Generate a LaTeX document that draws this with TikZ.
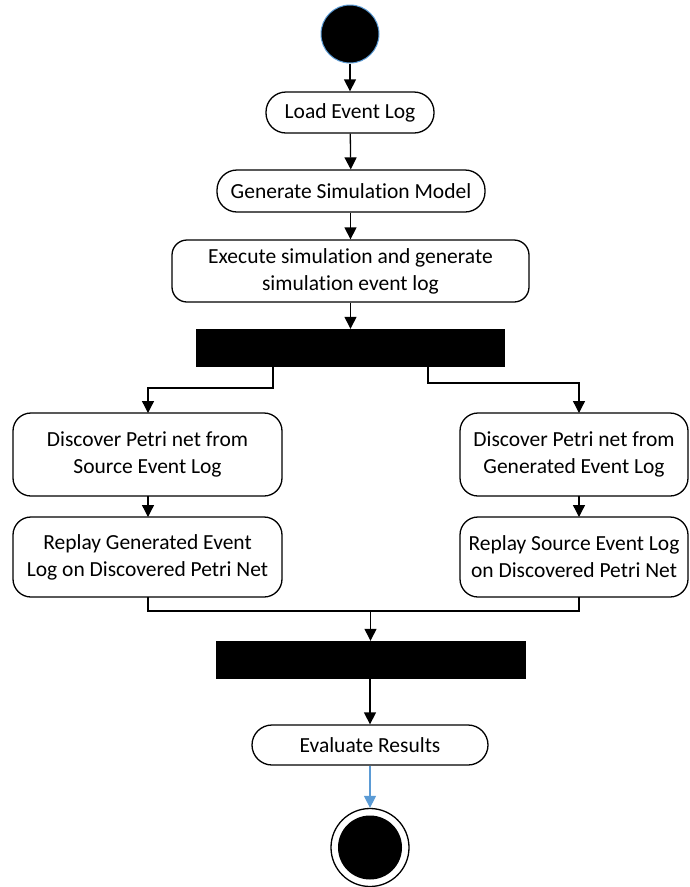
\documentclass[tikz,border=0pt]{standalone}
\usepackage{fontspec}
\setmainfont{Carlito}[Ligatures=NoCommon]
\usetikzlibrary{arrows.meta}
\definecolor{startblue}{RGB}{91,155,213}
\tikzset{
  act/.style={draw, line width=1.3pt, rounded corners=#1, align=center,
    font=\fontsize{21.5}{27}\selectfont, inner sep=0pt, fill=white},
  joinbar/.style={fill=black, draw=none, inner sep=0pt},
  arr/.style={line width=1.3pt, -{Triangle[width=12pt,length=12pt]}},
  ln/.style={line width=1.3pt},
}
\begin{document}
\begin{tikzpicture}[x=1pt,y=-1pt]
\useasboundingbox (0,0) rectangle (689,887);
\node[circle, fill=black, draw=startblue, line width=1pt, minimum size=58pt, inner sep=0pt] (start) at (350,34) {};
\node[act=20pt, minimum width=168pt, minimum height=41pt] (load) at (350,112.5) {Load Event Log};
\node[act=20pt, minimum width=268pt, minimum height=42pt] (gen) at (351,191) {Generate Simulation Model};
\node[act=15pt, minimum width=357pt, minimum height=62pt] (exec) at (350.5,271) {Execute simulation and generate\\simulation event log};
\node[joinbar, minimum width=309pt, minimum height=38pt] (fork) at (350.5,348) {};
\node[act=18pt, minimum width=269pt, minimum height=83pt] (ds) at (147.5,454.5) {Discover Petri net from\\Source Event Log};
\node[act=18pt, minimum width=269pt, minimum height=80pt] (rg) at (147.5,557) {Replay Generated Event\\Log on Discovered Petri Net};
\node[act=18pt, minimum width=228pt, minimum height=83pt] (dg) at (574,454.5) {Discover Petri net from\\Generated Event Log};
\node[act=18pt, minimum width=228pt, minimum height=80pt] (rs) at (574,557) {Replay Source Event Log\\on Discovered Petri Net};
\node[joinbar, minimum width=310pt, minimum height=38pt] (merge) at (371,660) {};
\node[act=20pt, minimum width=236pt, minimum height=40pt] (eval) at (370,745) {Evaluate Results};
\node[circle, draw=black, line width=1.3pt, minimum size=78pt, inner sep=0pt] (endo) at (370,847.5) {};
\node[circle, fill=black, minimum size=64pt, inner sep=0pt] (endi) at (endo.center) {};

\coordinate (fl) at (273,367);
\coordinate (fr) at (428,367);
\coordinate (jm) at (370.5,611);
\draw[arr] (start) -- (load);
\draw[arr] (load) -- (gen);
\draw[arr] (gen.south -| exec) -- (exec);
\draw[arr] (exec) -- (fork);
\draw[arr] (fl) |- (148,388) -- (148,413);
\draw[arr] (fr) |- (579,383) -- (579,413);
\draw[arr] (148,496) -- (148,517);
\draw[arr] (579,496) -- (579,517);
\draw[ln] (148,597) |- (jm) -| (579,597);
\draw[arr] (jm) -- (merge.north -| jm);
\draw[arr] (merge.south -| eval) -- (eval);
\draw[arr, draw=startblue, -{Triangle[width=12pt,length=12pt,fill=startblue]}, color=startblue] (eval) -- (endo);
\end{tikzpicture}
\end{document}
